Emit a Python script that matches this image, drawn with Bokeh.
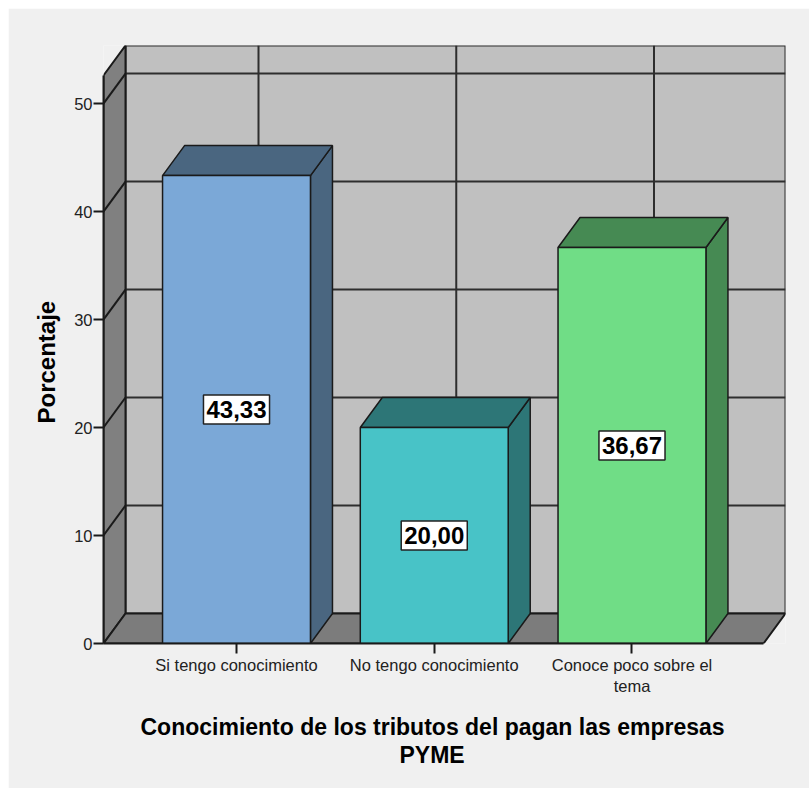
from bokeh.plotting import figure
from bokeh.models import Range1d, FixedTicker, Label, Spacer, Title
from bokeh.layouts import column, row
from bokeh.embed import file_html
from bokeh.resources import INLINE

# ---- data ----
categories = ["Si tengo conocimiento", "No tengo conocimiento", "Conoce poco sobre el\ntema"]
percentages = [43.33, 20.00, 36.67]
y_ticks = [0, 10, 20, 30, 40, 50]
x_title = ["Conocimiento de los tributos del pagan las empresas", "PYME"]
y_title = "Porcentaje"

# ---- styles ----
front_colors = ["#7ba8d7", "#48c3c7", "#70dd86"]
shade_colors = ["#4a6680", "#2d7677", "#468a53"]
bg = "#f0f0f0"
wall_back = "#c0c0c0"
wall_side = "#808080"
floor_col = "#7c7c7c"
grid_col = "#2e2e2e"
edge_col = "#1a1a1a"

# ---- geometry (data units) ----
x_lo, x_hi = -0.6726, 2.665      # front floor extent
wall_top = 52.6                  # height of the walls at the front
dx, dy = 0.1113, 2.778           # oblique depth offset
half_w = 0.374                   # half bar width

p = figure(width=801, height=780, output_backend="svg", toolbar_location=None,
           x_range=Range1d(x_lo, x_hi + dx), y_range=Range1d(0, wall_top + dy),
           min_border_left=95, min_border_right=24, min_border_top=37,
           min_border_bottom=145)
p.background_fill_color = bg
p.border_fill_color = bg
p.outline_line_color = None
p.xgrid.visible = False
p.ygrid.visible = False

# back wall
p.quad(left=[x_lo + dx], right=[x_hi + dx], bottom=[dy], top=[wall_top + dy],
       fill_color=wall_back, line_color=grid_col, line_width=2)
# back wall grid
gx = [[x_lo + dx, x_hi + dx] for t in y_ticks[1:]]
gy = [[t + dy, t + dy] for t in y_ticks[1:]]
vx = [[i + dx, i + dx] for i in range(len(categories))]
vy = [[dy, wall_top + dy] for i in range(len(categories))]
p.multi_line(gx + vx, gy + vy, line_color=grid_col, line_width=2)

# left side wall
p.patch([x_lo, x_lo + dx, x_lo + dx, x_lo], [0, dy, wall_top + dy, wall_top],
        fill_color=wall_side, line_color=edge_col, line_width=2)
p.multi_line([[x_lo, x_lo + dx] for t in y_ticks[1:]],
             [[t, t + dy] for t in y_ticks[1:]], line_color=edge_col, line_width=2)

# floor
p.patch([x_lo, x_hi, x_hi + dx, x_lo + dx], [0, 0, dy, dy],
        fill_color=floor_col, line_color=edge_col, line_width=2)

# bars: side, top and front faces
for i, v in enumerate(percentages):
    l, r = i - half_w, i + half_w
    p.patch([r, r + dx, r + dx, r], [0, dy, v + dy, v],
            fill_color=shade_colors[i], line_color=edge_col, line_width=1.5)
    p.patch([l, r, r + dx, l + dx], [v, v, v + dy, v + dy],
            fill_color=shade_colors[i], line_color=edge_col, line_width=1.5)
    p.quad(left=[l], right=[r], bottom=[0], top=[v],
           fill_color=front_colors[i], line_color=edge_col, line_width=1.5)

# value labels, centred on each bar's front face
for i, v in enumerate(percentages):
    p.add_layout(Label(x=i, y=v / 2, text=f"{v:.2f}".replace(".", ","),
                       text_align="center", text_baseline="middle",
                       text_font="Liberation Sans", text_font_style="bold",
                       text_font_size="24px", text_color="black",
                       background_fill_color="white", border_line_color="#222222",
                       border_line_width=1.5, padding=(3, 6)))

# axes
xa = p.xaxis[0]
xa.ticker = FixedTicker(ticks=list(range(len(categories))))
xa.major_label_overrides = {i: c for i, c in enumerate(categories)}
xa.bounds = (x_lo, x_hi)
xa.axis_line_color = edge_col
xa.axis_line_width = 2
xa.major_tick_out = 10
xa.major_tick_in = 0
xa.major_tick_line_color = edge_col
xa.major_tick_line_width = 2
xa.minor_tick_line_color = None
xa.major_label_standoff = 2
xa.major_label_text_font = "Liberation Sans"
xa.major_label_text_font_size = "16.5px"
xa.major_label_text_color = "#222222"
# blank axis label keeps a little room between tick labels and the title
xa.axis_label = " "
xa.axis_label_text_font_size = "8px"
xa.axis_label_standoff = 1

ya = p.yaxis[0]
ya.ticker = FixedTicker(ticks=y_ticks)
ya.bounds = (0, wall_top)
ya.axis_line_color = edge_col
ya.axis_line_width = 2
ya.major_tick_out = 10
ya.major_tick_in = 0
ya.major_tick_line_color = edge_col
ya.major_tick_line_width = 2
ya.minor_tick_line_color = None
ya.major_label_standoff = 1
ya.major_label_text_font = "Liberation Sans"
ya.major_label_text_font_size = "16.5px"
ya.major_label_text_color = "#222222"

# axis titles
title_style = dict(text_font="Liberation Sans", text_font_style="bold",
                   text_font_size="23px", text_color="black")
p.add_layout(Title(text=x_title[0], align="left", offset=37, standoff=0,
                   **title_style), "below")
p.add_layout(Title(text=x_title[1], align="left", offset=296, standoff=0,
                   **title_style), "below")
p.add_layout(Title(text=y_title, align="left", offset=220, standoff=24,
                   **dict(title_style, text_font_size="24px")), "left")

layout = column(Spacer(height=8), row(Spacer(width=8), p))
open("out.html", "w").write(file_html(layout, INLINE))
